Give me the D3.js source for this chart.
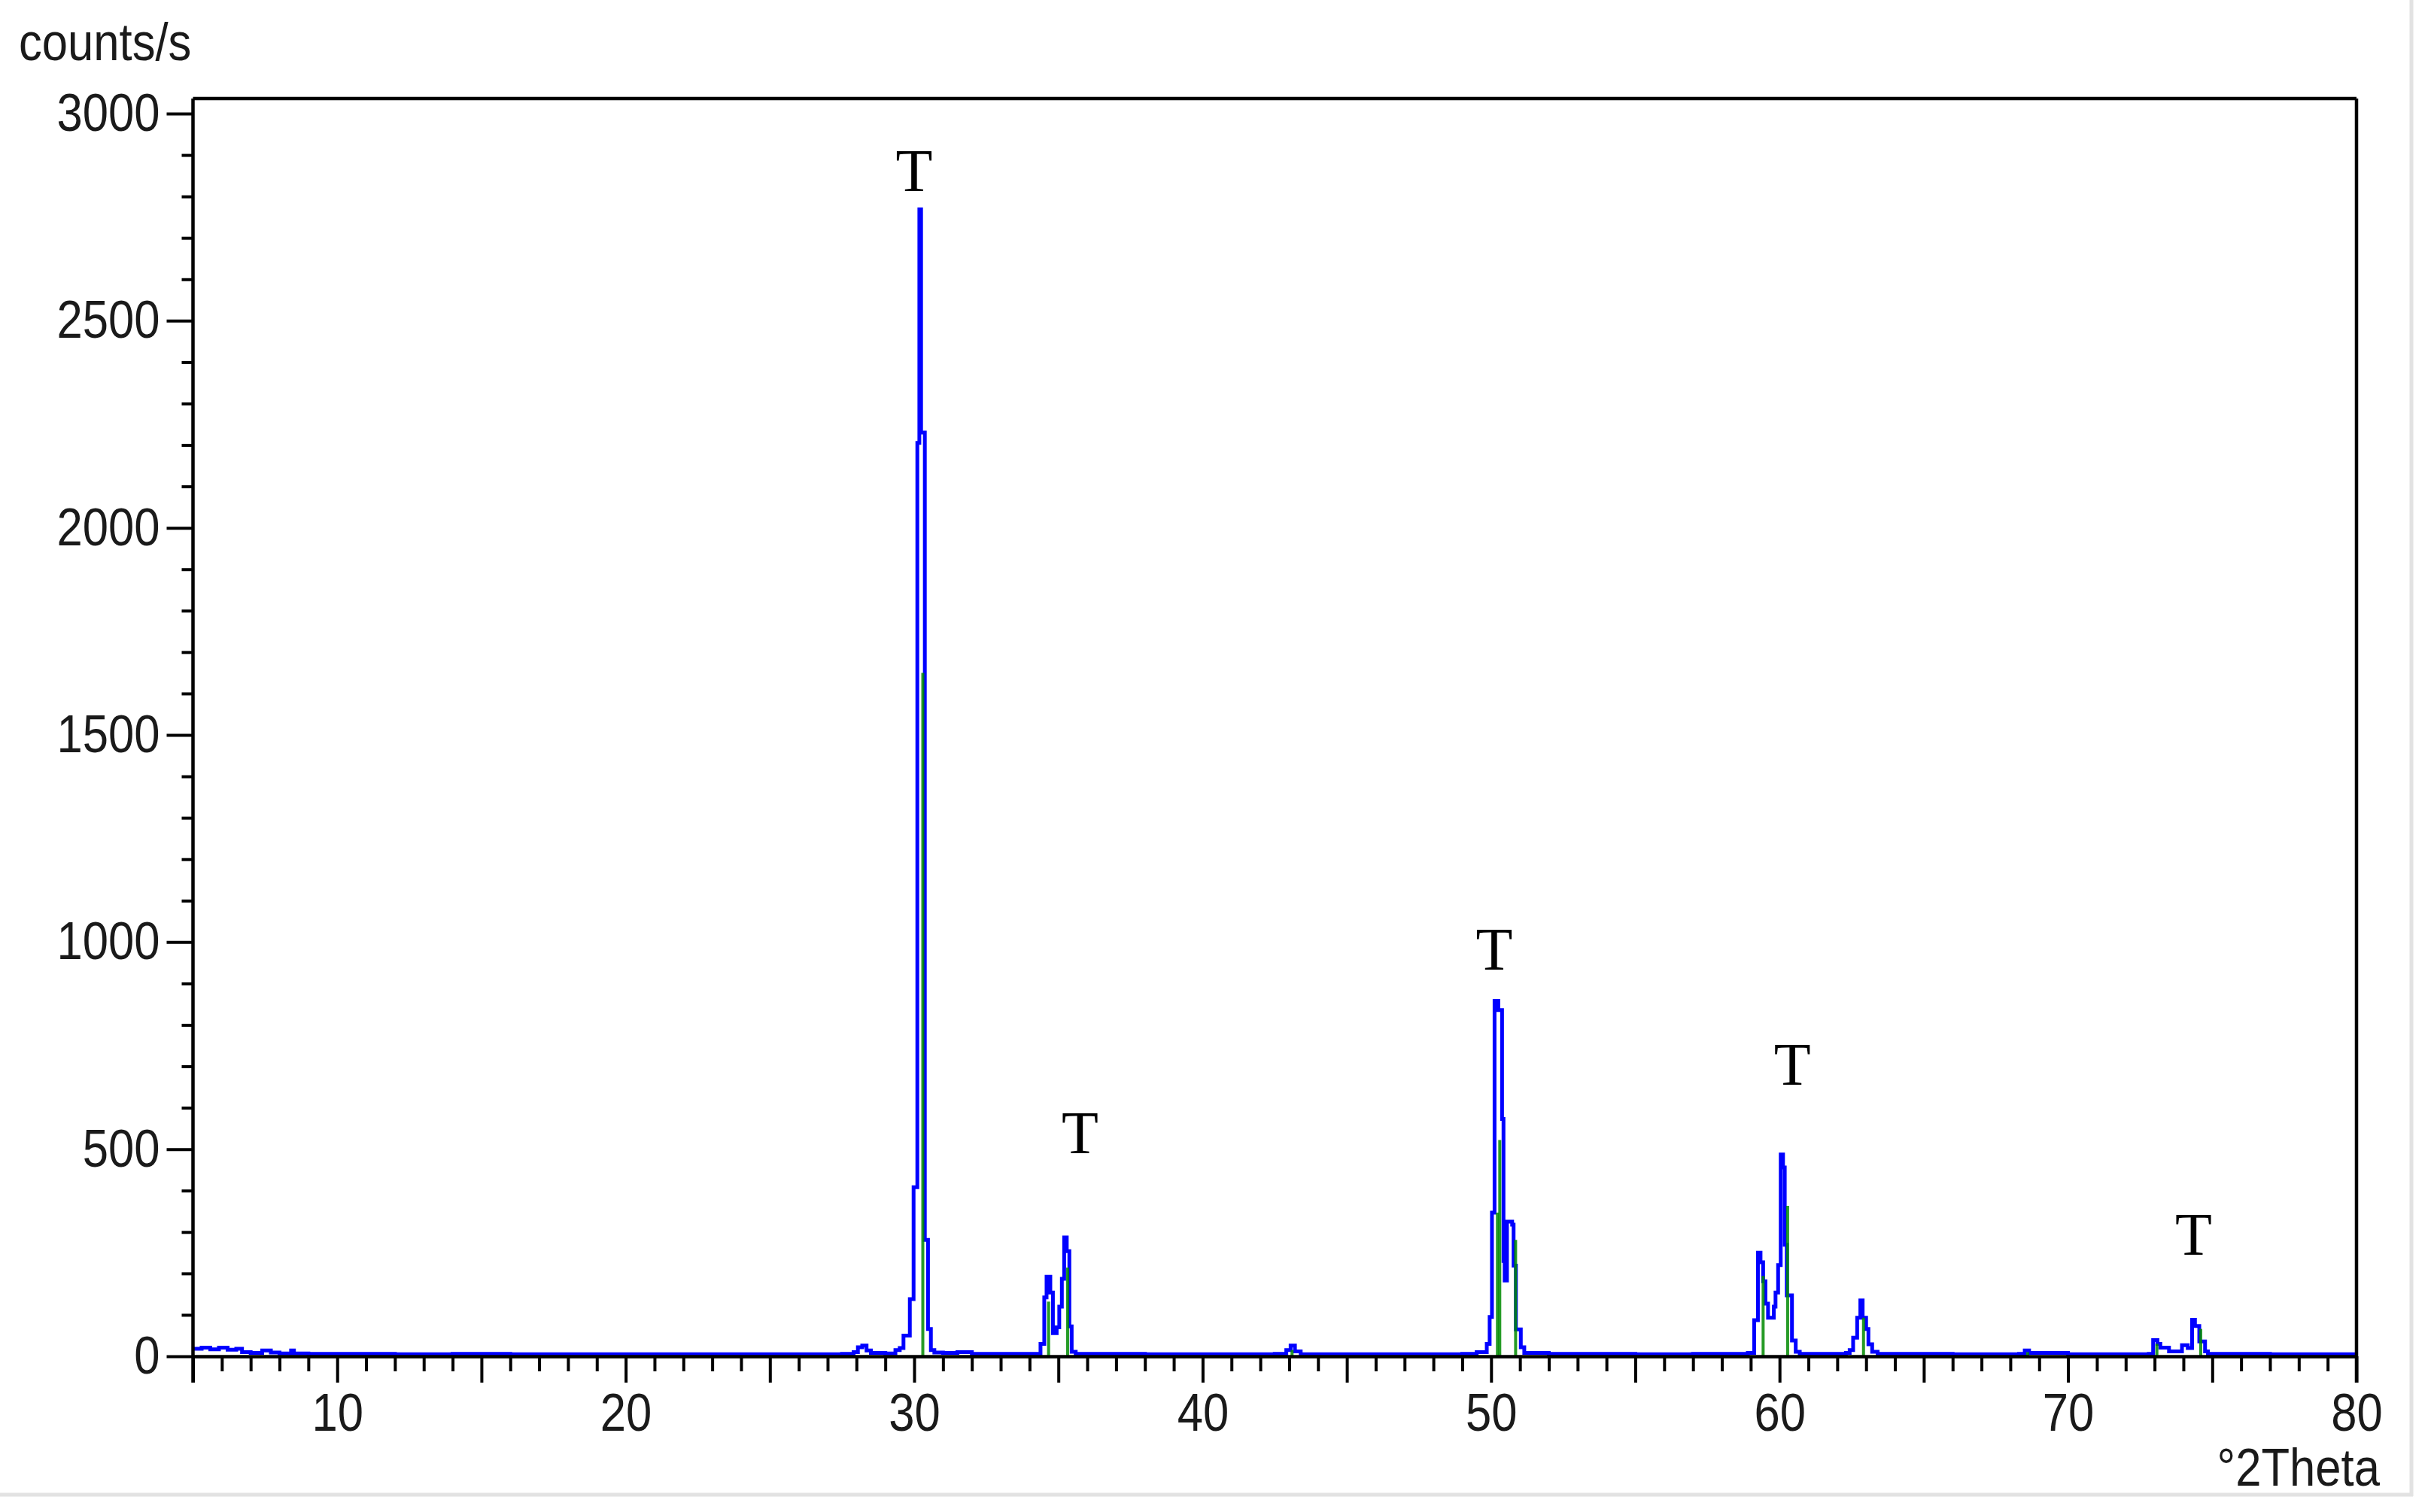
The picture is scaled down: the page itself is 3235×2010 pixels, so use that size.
<!DOCTYPE html>
<html><head><meta charset="utf-8">
<script src="https://cdn.jsdelivr.net/npm/d3@7"></script>
<style>body{margin:0;background:#fff}svg{display:block}</style>
</head><body>
<svg id="chart" width="3235" height="2010"></svg>
<script>
// ---- measured pattern (°2Theta, counts/s) ----
const twoTheta = [5.0,5.3,5.6,5.9,6.2,6.5,6.7,7.0,7.4,7.7,8.0,8.4,8.5,9.0,10,12,14,16,18,20,22,24,26,27.5,27.9,28.05,28.2,28.35,28.5,29.0,29.35,29.5,29.63,29.85,29.98,30.11,30.18,30.24,30.37,30.48,30.58,30.7,31.0,31.5,32,34.0,34.38,34.51,34.59,34.72,34.81,34.94,35.03,35.12,35.2,35.29,35.38,35.46,35.6,38,40,42.5,42.9,43.05,43.2,43.4,46,49,49.5,49.85,49.95,50.03,50.12,50.25,50.38,50.43,50.47,50.55,50.73,50.78,50.86,51.03,51.15,52,55,57,58.9,59.12,59.25,59.34,59.43,59.51,59.6,59.72,59.8,59.86,59.95,60.04,60.12,60.18,60.25,60.34,60.43,60.56,60.7,62.3,62.43,62.55,62.69,62.8,62.88,63.0,63.08,63.21,63.4,66,68.3,68.5,68.65,70,72.8,72.95,73.1,73.2,73.5,73.95,74.15,74.3,74.4,74.55,74.75,74.85,77,80];
const counts   = [18,21,17,21,16,18,10,8,14,9,7,14,7,6,6,5,6,5,5,5,5,5,5,6,10,22,26,14,8,7,15,20,50,138,408,2205,2769,2230,281,66,15,9,8,10,6,6,30,142,192,154,56,70,120,187,287,254,72,11,6,5,5,6,15,26,12,5,5,6,10,30,95,347,858,836,573,230,183,325,318,219,65,22,8,6,5,6,8,87,250,227,181,127,93,93,120,154,220,487,456,269,147,147,38,11,6,8,15,45,93,135,93,66,29,11,6,5,6,14,8,5,6,39,30,21,12,27,20,88,73,36,12,6,5,5];
// ---- reference pattern sticks ----
const refTheta  = [30.3,34.66,35.32,43.1,50.22,50.3,50.85,59.43,60.28,62.91,68.6,73.08,74.6];
const refCounts = [1650,132,214,15,347,522,281,194,363,93,10,30,66];
// ---- phase markers ----
const markerTheta  = [30.0,35.75,50.11,60.44,74.35];
const markerCounts = [2813,490,933,656,245];
const markerLabels = ["T","T","T","T","T"];
// ---- axes ----
const xTickValues = d3.range(5,81,1);
const yTickValues = d3.range(0,3001,100);
const xLabelEvery = 10, xMajorEvery = 5, yLabelEvery = 500;
const xTitle = "°2Theta", yTitle = "counts/s";

const svg = d3.select("#chart");
const L = 256.5, R = 3132, TOP = 131, B = 1803, Y3000 = 151;
const x = d3.scaleLinear().domain([5,80]).range([L,R]);
const y = d3.scaleLinear().domain([0,3000]).range([B,Y3000]);
const SANS = "'Liberation Sans', Arial, sans-serif";
const SX = 0.88;

// outer window frame (light grey)
svg.append("line").attr("x1",3205).attr("x2",3205).attr("y1",0).attr("y2",1989).attr("stroke","#e2e2e2").attr("stroke-width",5);
svg.append("line").attr("x1",0).attr("x2",3207).attr("y1",1987).attr("y2",1987).attr("stroke","#e2e2e2").attr("stroke-width",5);

// measured curve (blue)
const pts = twoTheta.map((t,i)=>[t,counts[i]]);
svg.append("path").datum(pts)
  .attr("d", d3.line().x(d=>x(d[0])).y(d=>y(d[1])).curve(d3.curveStepAfter))
  .attr("fill","none").attr("stroke","#0000ff").attr("stroke-width",5).attr("stroke-linejoin","miter");

// reference sticks (green)
svg.append("g").selectAll("line").data(refTheta).join("line")
  .attr("x1",d=>x(d)).attr("x2",d=>x(d))
  .attr("y1",y(0)).attr("y2",(d,i)=>y(refCounts[i]))
  .attr("stroke","#008a00").attr("stroke-width",4).attr("stroke-opacity",0.85);

// X axis
const gx = svg.append("g").attr("transform",`translate(0,${B})`)
  .call(d3.axisBottom(x).tickValues(xTickValues).tickSize(35).tickSizeOuter(0).tickPadding(14)
        .tickFormat(d=> d % xLabelEvery === 0 ? d : ""));
gx.select(".domain").attr("stroke","#000").attr("stroke-width",4.5);
gx.selectAll(".tick line").attr("stroke","#000").attr("stroke-width",4)
  .attr("y2", d => d % xMajorEvery === 0 ? 35 : 20);
gx.selectAll(".tick text").attr("font-family",SANS).attr("font-size",70).attr("fill","#1a1a1a")
  .attr("transform",`scale(${SX},1)`);

// Y axis
const gy = svg.append("g").attr("transform",`translate(${L},0)`)
  .call(d3.axisLeft(y).tickValues(yTickValues).tickSize(35).tickSizeOuter(0).tickPadding(9)
        .tickFormat(d=> d % yLabelEvery === 0 ? d : ""));
gy.select(".domain").remove();
gy.selectAll(".tick line").attr("stroke","#000").attr("stroke-width",4)
  .attr("x2", d => d % yLabelEvery === 0 ? -35 : -15);
gy.selectAll(".tick text").attr("font-family",SANS).attr("font-size",70).attr("fill","#1a1a1a")
  .attr("transform",`translate(-44,0) scale(${SX},1) translate(44,0)`);

// frame lines
const frame = svg.append("g").attr("stroke","#000").attr("stroke-width",4.5).attr("fill","none");
frame.append("line").attr("x1",L).attr("x2",L).attr("y1",TOP).attr("y2",B+35);
frame.append("line").attr("x1",L).attr("x2",R).attr("y1",TOP).attr("y2",TOP);
frame.append("line").attr("x1",R).attr("x2",R).attr("y1",TOP).attr("y2",B+35);

// axis titles
svg.append("text").text(yTitle).attr("x",25).attr("y",80)
  .attr("font-family",SANS).attr("font-size",70).attr("fill","#1a1a1a")
  .attr("transform",`translate(25,0) scale(${SX},1) translate(-25,0)`);
svg.append("text").text(xTitle).attr("x",3163).attr("y",1975).attr("text-anchor","end")
  .attr("font-family",SANS).attr("font-size",70).attr("fill","#1a1a1a")
  .attr("transform",`translate(3163,0) scale(${SX},1) translate(-3163,0)`);

// phase markers
svg.append("g").selectAll("text").data(markerLabels).join("text")
  .text(d=>d)
  .attr("x",(d,i)=>x(markerTheta[i])).attr("y",(d,i)=>y(markerCounts[i]))
  .attr("text-anchor","middle")
  .attr("font-family","'Liberation Serif','Times New Roman',serif").attr("font-size",80).attr("fill","#000");
</script>
</body></html>
